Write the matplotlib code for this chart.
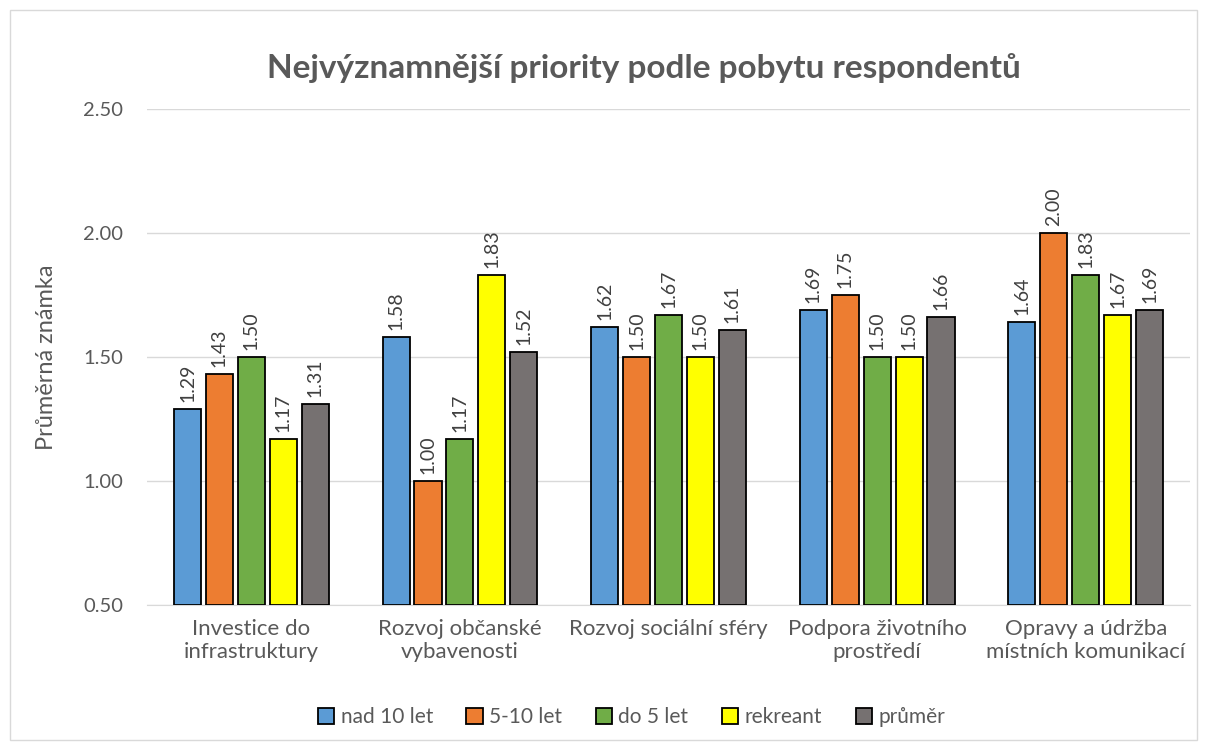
import numpy as np
import matplotlib
matplotlib.use('Agg')
import matplotlib.pyplot as plt
from matplotlib.patches import Rectangle

plt.rcParams['font.family'] = ['Lato', 'DejaVu Sans']

CATEGORIES = ['Investice do\ninfrastruktury', 'Rozvoj občanské\nvybavenosti',
              'Rozvoj sociální sféry', 'Podpora životního\nprostředí',
              'Opravy a údržba\nmístních komunikací']
SERIES = ['nad 10 let', '5-10 let', 'do 5 let', 'rekreant', 'průměr']
NAD_10 = [1.29, 1.58, 1.62, 1.69, 1.64]
LET_5_10 = [1.43, 1.00, 1.50, 1.75, 2.00]
DO_5 = [1.50, 1.17, 1.67, 1.50, 1.83]
REKREANT = [1.17, 1.83, 1.50, 1.50, 1.67]
PRUMER = [1.31, 1.52, 1.61, 1.66, 1.69]
COLORS = ['#5B9BD5', '#ED7D31', '#70AD47', '#FFFF00', '#767171']

VALUES = [NAD_10, LET_5_10, DO_5, REKREANT, PRUMER]

fig = plt.figure(figsize=(12.05, 7.49), dpi=100)
ax = fig.add_axes([0.122, 0.1923, 0.8656, 0.6622])

x = np.arange(len(CATEGORIES))
step = 0.153
width = 0.13
for i, (name, vals, col) in enumerate(zip(SERIES, VALUES, COLORS)):
    pos = x + (i - 2) * step
    ax.bar(pos, np.array(vals) - 0.5, width, bottom=0.5, color=col,
           edgecolor='black', linewidth=1.3, label=name, zorder=3)
    for p, v in zip(pos, vals):
        ax.annotate('%.2f' % v, xy=(p, v), xytext=(0, 5), textcoords='offset points',
                    rotation=90, ha='center', va='bottom', fontsize=14, color='#404040')

ax.set_ylim(0.5, 2.5)
ax.set_xlim(-0.5, len(CATEGORIES) - 0.5)
ticks = [0.5, 1.0, 1.5, 2.0, 2.5]
ax.set_yticks(ticks)
ax.set_yticklabels(['%.2f' % t for t in ticks], fontsize=14.5, color='#595959')
ax.set_xticks(x)
ax.set_xticklabels(CATEGORIES, fontsize=16, color='#595959')
ax.tick_params(axis='y', length=0, pad=17)
ax.tick_params(axis='x', length=0, pad=10)
ax.grid(axis='y', color='#d9d9d9', linewidth=1, zorder=0)
for s in ['top', 'right', 'left']:
    ax.spines[s].set_visible(False)
ax.spines['bottom'].set_color('#d9d9d9')
ax.set_ylabel('Průměrná známka', fontsize=17, color='#595959', labelpad=19)

fig.text(0.534, 0.909, 'Nejvýznamnější priority podle pobytu respondentů', ha='center', va='center',
         fontsize=24, fontweight='bold', color='#595959')

fig.legend(loc='center', bbox_to_anchor=(0.524, 0.043), ncol=5, frameon=False, fontsize=15,
           handlelength=0.8, handleheight=0.8, handletextpad=0.3, columnspacing=1.6,
           labelcolor='#595959')

fig.patches.append(Rectangle((0.008, 0.012), 0.985, 0.975, transform=fig.transFigure,
                             fill=False, edgecolor='#d9d9d9', linewidth=1))

fig.savefig('out.png', dpi=100)
